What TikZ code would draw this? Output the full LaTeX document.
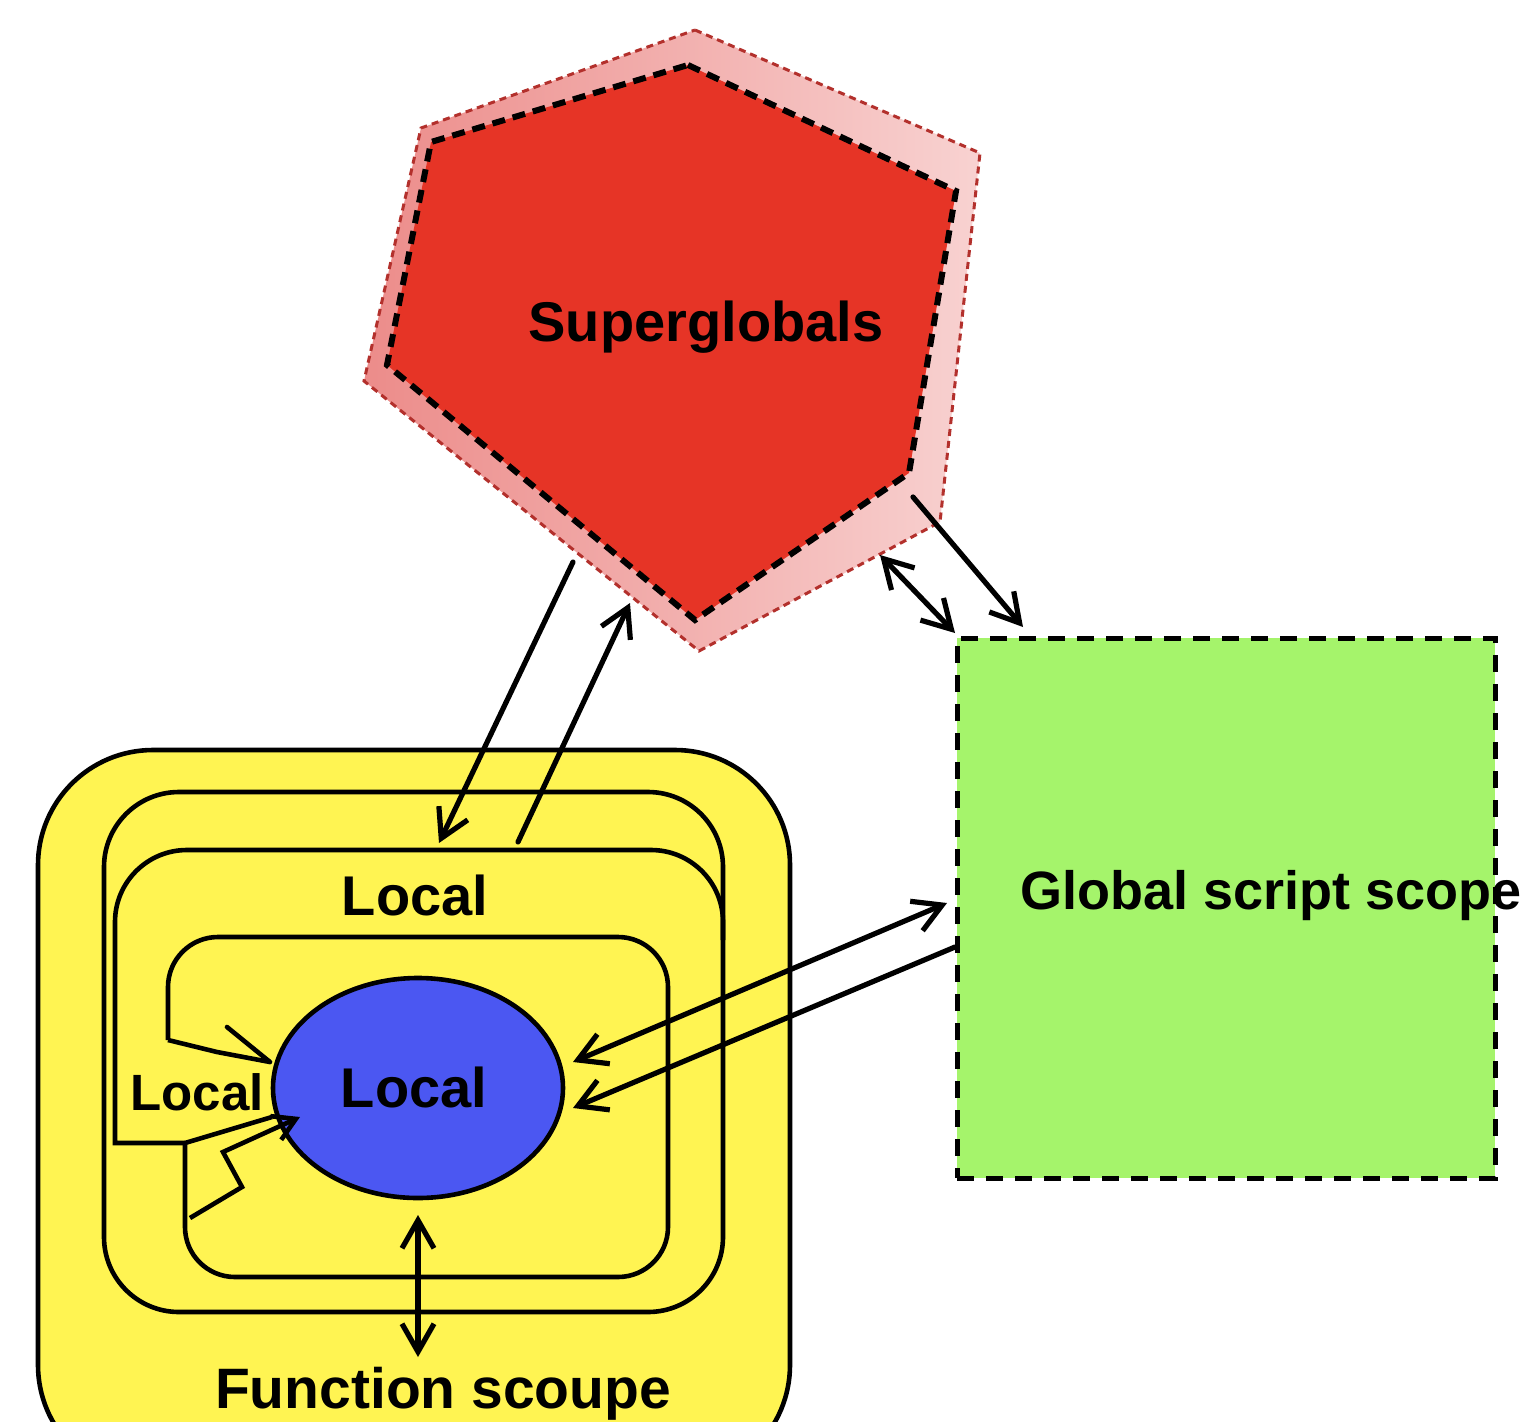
\documentclass[tikz,border=0pt]{standalone}
\usepackage{fontspec}
\setmainfont{Liberation Sans}
\usetikzlibrary{arrows.meta,shapes.geometric}
\definecolor{yell}{HTML}{FFF452}
\definecolor{bluefill}{HTML}{4B57F2}
\definecolor{greenfill}{HTML}{A5F46B}
\definecolor{redfill}{HTML}{E63426}
\definecolor{pinkA}{HTML}{EC8C8A}
\definecolor{pinkB}{HTML}{F8D2D1}
\definecolor{darkred}{HTML}{B3302C}
\tikzset{
  border/.style={draw=black, line width=4.6pt},
  conn/.style={line width=5.2pt, line cap=round, line join=round},
  arr/.style={conn, -{Straight Barb[length=28pt,width=32pt]}},
  darr/.style={conn, {Straight Barb[length=28pt,width=32pt]}-{Straight Barb[length=28pt,width=32pt]}},
  lbl/.style={font=\bfseries\fontsize{56}{60}\selectfont, inner sep=0pt, anchor=base},
}
\begin{document}
\begin{tikzpicture}[x=1pt,y=-1pt]
\clip (0,0) rectangle (1532,1422);
\fill[white] (0,0) rectangle (1532,1422);

% ---------- Superglobals hexagon ----------
\coordinate (ho1) at (695,30);
\coordinate (ho2) at (980,153);
\coordinate (ho3) at (940,522);
\coordinate (ho4) at (699,651);
\coordinate (ho5) at (364,381);
\coordinate (ho6) at (421,128);
\shade[left color=pinkA, right color=pinkB] (ho1)--(ho2)--(ho3)--(ho4)--(ho5)--(ho6)--cycle;
\draw[darkred, line width=3pt, dash pattern=on 7pt off 5pt] (ho1)--(ho2)--(ho3)--(ho4)--(ho5)--(ho6)--cycle;
\coordinate (hi1) at (688,65);
\coordinate (hi2) at (956,191);
\coordinate (hi3) at (909,473);
\coordinate (hi4) at (695,620);
\coordinate (hi5) at (387,365);
\coordinate (hi6) at (431,142);
\fill[redfill] (hi1)--(hi2)--(hi3)--(hi4)--(hi5)--(hi6)--cycle;
\draw[black, line width=6pt, dash pattern=on 13pt off 8pt] (hi1)--(hi2)--(hi3)--(hi4)--(hi5)--(hi6)--cycle;
\node[lbl] (sg) at (706,341) {Superglobals};

% ---------- Global script scope ----------
\node[draw=black, line width=5pt, dash pattern=on 17pt off 12pt, fill=greenfill,
      minimum width=538pt, minimum height=540pt, inner sep=0pt] (gs) at (1226,908) {};
\node[lbl, font=\bfseries\fontsize{54}{60}\selectfont] (gst) at (1271,909) {Global script scope};

% ---------- Function scope ----------
\draw[border, fill=yell, rounded corners=115pt] (38,750) rectangle (790,1480);
\draw[border, rounded corners=75pt] (104,792) rectangle (723,1312);
% rect 3 (merges into rect 2)
\draw[border, line join=miter] (723,940) -- (723,922) arc[start angle=0, end angle=-90, radius=72]
   -- (187,850) arc[start angle=-90, end angle=-180, radius=72]
   -- (115,1143) -- (185,1143);
% rect 4
\draw[border, rounded corners=50pt] (168,1040) -- (168,937) -- (668,937) -- (668,1277) -- (185,1277) -- (185,1143);

% ellipse
\node[ellipse, border, fill=bluefill, minimum width=290pt, minimum height=220pt, inner sep=0pt] (loc) at (418,1088) {};

\node[lbl] (l1) at (415,915) {Local};
\node[lbl] (l2) at (414,1107) {Local};
\node[lbl, font=\bfseries\fontsize{51}{55}\selectfont] (l3) at (197,1110) {Local};
\node[lbl, font=\bfseries\fontsize{57}{62}\selectfont] (fs) at (443,1408) {Function scoupe};

% small inner connectors
\coordinate (a1) at (168,1040);
\coordinate (a2) at (217,1052);
\coordinate (a3) at (270,1062);
\coordinate (a4) at (227,1027);
\draw[border, line join=round] (a1) -- (a2) -- (a3);
\draw[border, line cap=round] (a4) -- (a3);
\coordinate (b1) at (185,1143);
\coordinate (b2) at (272,1117);
\draw[border] (b1) -- (b2);
\coordinate (z1) at (190,1218);
\coordinate (z2) at (242,1187);
\coordinate (z3) at (223,1152);
\coordinate (z4) at (300,1117);
\draw[border, line join=miter, -{Straight Barb[length=22pt,width=26pt]}] (z1) -- (z2) -- (z3) -- (z4);

% ---------- connectors ----------
\coordinate (s1) at (573,562);
\coordinate (f1) at (439,843);
\coordinate (f2) at (518,842);
\coordinate (s2) at (630,603);
\coordinate (s3) at (880,555);
\coordinate (g3) at (955,633);
\coordinate (s4) at (913,497);
\coordinate (g4) at (1023,627);
\coordinate (e5) at (573,1062);
\coordinate (g5) at (947,903);
\coordinate (g6) at (955,947);
\coordinate (e6) at (573,1108);
\coordinate (e7) at (418,1215);
\coordinate (f7) at (418,1357);

\draw[arr] (s1) -- (f1);
\draw[arr] (f2) -- (s2);
\draw[darr] (s3) -- (g3);
\draw[arr] (s4) -- (g4);
\draw[darr] (e5) -- (g5);
\draw[arr] (g6) -- (e6);
\draw[darr] (e7) -- (f7);
\end{tikzpicture}
\end{document}
